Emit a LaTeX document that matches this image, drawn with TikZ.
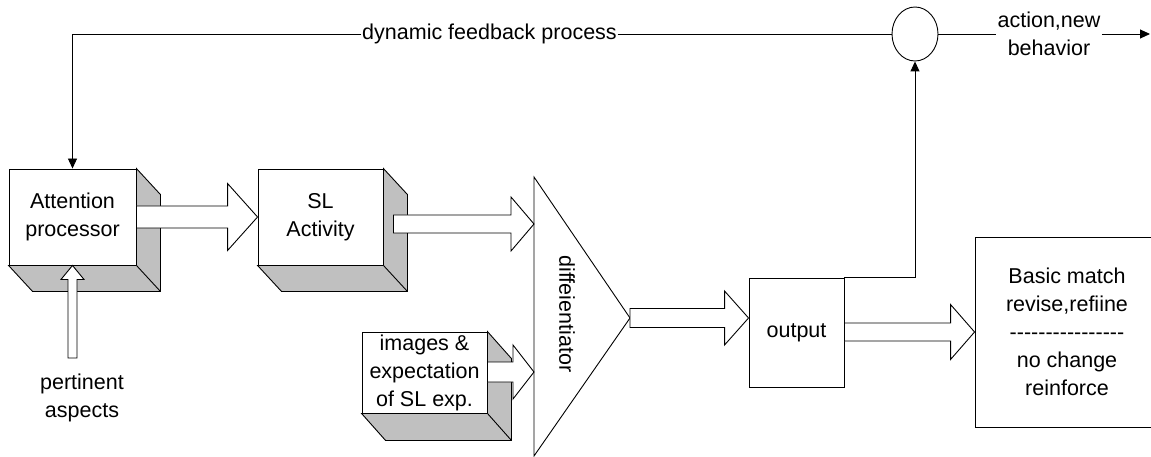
\documentclass[tikz,border=0pt]{standalone}
\usepackage{fontspec}
\setmainfont{Liberation Sans}[Ligatures=TeXOff]
\usetikzlibrary{calc,shapes.geometric,arrows.meta}
\definecolor{sidegray}{RGB}{192,192,192}
% horizontal block arrow: start, tip, shaft half width, head length, head half width
\newcommand{\harrow}[5]{%
  \draw[blk] let \p1=(#1), \p2=(#2) in
    (\x1,\y2+#3pt) -- (\x2-#4pt,\y2+#3pt) -- (\x2-#4pt,\y2+#5pt) -- (\p2)
    -- (\x2-#4pt,\y2-#5pt) -- (\x2-#4pt,\y2-#3pt) -- (\x1,\y2-#3pt) -- cycle;}
% vertical (upward) block arrow
\newcommand{\varrow}[5]{%
  \draw[blk] let \p1=(#1), \p2=(#2) in
    (\x2-#3pt,\y1) -- (\x2-#3pt,\y2-#4pt) -- (\x2-#5pt,\y2-#4pt) -- (\p2)
    -- (\x2+#5pt,\y2-#4pt) -- (\x2+#3pt,\y2-#4pt) -- (\x2+#3pt,\y1) -- cycle;}
% shaded 3-D sides of a box
\newcommand{\shadebox}[3]{%
  \draw[side] (#1.north east) -- ++(#2,#3) -- ($(#1.south east)+(#2,#3)$)
    -- ($(#1.south west)+(#2,#3)$) -- (#1.south west) -- (#1.south east) -- cycle;
  \draw[side] (#1.south east) -- ++(#2,#3);}
\begin{document}
\begin{tikzpicture}[x=1pt,y=-1pt,line width=0.9pt,
  font=\fontsize{21.5}{28}\selectfont,
  box/.style={draw,fill=white,inner sep=0pt,align=center},
  blk/.style={draw,fill=white,line width=0.9pt},
  side/.style={draw,fill=sidegray,line join=miter},
  conn/.style={draw,-{Triangle[length=10pt,width=9pt]}},
  lbl/.style={fill=white,inner sep=1pt,align=center}]
\useasboundingbox (0,0) rectangle (1151,457);

% boxes
\node[box,minimum width=127pt,minimum height=96pt] (att) at (72.5,217) {Attention\\processor};
\node[box,minimum width=125pt,minimum height=96pt] (sl) at (320.5,217) {SL\\Activity};
\node[box,minimum width=125pt,minimum height=81pt] (img) at (424.5,372.5) {images \&\\expectation\\of SL exp.};
\node[box,minimum width=95pt,minimum height=109pt] (out) at (796.5,332.5) {output};
\node[box,minimum width=184pt,minimum height=190pt] (res) at (1067,332)
  {Basic match\\revise,refiine\\----------------\\no change\\reinforce};
\node[draw,fill=white,ellipse,inner sep=0pt,minimum width=46pt,minimum height=54pt] (circ) at (915,34) {};

% labels on the feedback line
\node[lbl,inner sep=0.5pt] (fb) at (489.5,34) {dynamic feedback process};
\node[lbl] (act) at (1049,34) {action,new\\behavior};
\coordinate (endR) at (1150,34);

% connectors
\draw[conn] (fb.west) -| (att.north);
\draw (fb.east) -- (circ.west);
\draw (circ.east) -- (act.west);
\draw[conn] (act.east) -- (endR);
\draw[conn] (out.north east) -| (circ.south);

% 3-D sides
\shadebox{att}{24}{26}
\shadebox{sl}{24}{26}
\shadebox{img}{24}{27}

% differentiator triangle
\coordinate (dA) at (534,177);
\coordinate (dB) at (534,456);
\coordinate (dt) at (630,318);
\coordinate (din1) at (534,224);
\coordinate (din2) at (534,372);
\draw[fill=white] (dA) -- (dB) -- (dt) -- cycle;
\node[rotate=-90,inner sep=0pt] (diff) at (567,314) {diffeientiator};

% block arrows
\harrow{att.east}{sl.west}{11}{30}{33.5}
\harrow{$(sl.east)+(10,0)$}{din1}{9}{23}{27}
\harrow{img.east}{din2}{10}{21}{27}
\harrow{dt}{out.west |- dt}{9.5}{24}{27}
\harrow{out.east}{res.west}{9}{24}{27.5}

% pertinent aspects
\node[align=center,inner sep=0pt] (pa) at (82,398) {pertinent\\aspects};
\coordinate (pabase) at (72.5,358);
\varrow{pabase}{att.south}{4.5}{14}{11.5}
\end{tikzpicture}
\end{document}
